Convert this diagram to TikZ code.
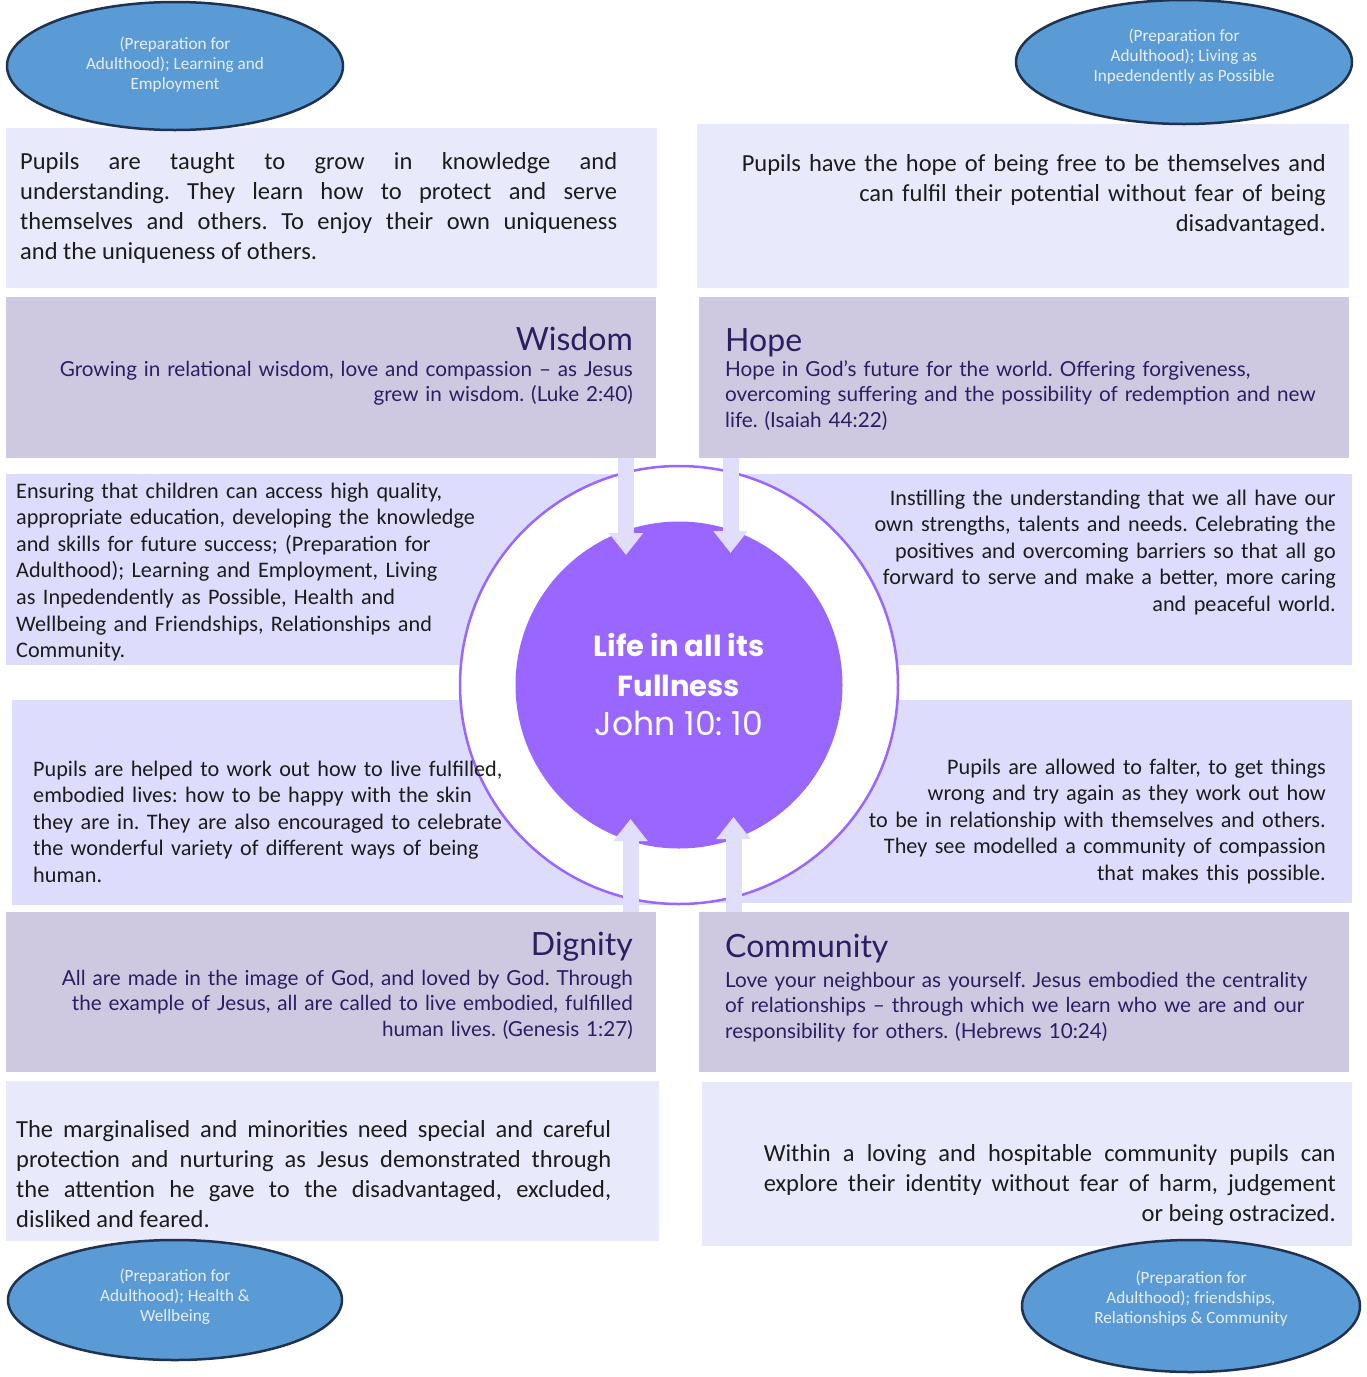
\documentclass[tikz,border=0pt]{standalone}
\usepackage{fontspec}
\setmainfont{Carlito}
\newfontfamily\headfont{Lato}
\newfontfamily\hubfont{Poppins}
\usepackage{tikz}
\usetikzlibrary{arrows.meta}
\usetikzlibrary{shapes.geometric}
\usepackage{xcolor}
\definecolor{panelpale}{HTML}{E9E9FC}
\definecolor{panelmid}{HTML}{DEDCFC}
\definecolor{panelhead}{HTML}{CFC8E1}
\definecolor{headink}{HTML}{2A2060}
\definecolor{bodyink}{HTML}{1C1C1C}
\definecolor{ovalfill}{HTML}{5B9BD5}
\definecolor{ovalline}{HTML}{1F3350}
\definecolor{ovalink}{HTML}{E6EEF8}
\definecolor{hubpurple}{HTML}{9966FF}
\definecolor{feedfill}{HTML}{E0DEFA}
\tikzset{>=latex}
\frenchspacing

\begin{document}
\begin{tikzpicture}[x=1pt,y=-1pt]
        % panels, heading boxes, text, hub, feed arrows, ovals
        \tikzstyle{box}=[draw=none, inner sep=0pt, anchor=north west]
        \tikzstyle{pale}=[box, fill=panelpale]
        \tikzstyle{mid}=[box, fill=panelmid]
        \tikzstyle{head}=[box, fill=panelhead]
        \tikzstyle{bodytext}=[inner sep=0pt, text=bodyink, font=\fontsize{24.5}{30}\selectfont]
        \tikzstyle{midtext}=[inner sep=0pt, text=bodyink, font=\fontsize{22.2}{26.6}\selectfont]
        \tikzstyle{headtitle}=[inner sep=0pt, text=headink, font=\headfont\fontsize{32}{36}\selectfont]
        \tikzstyle{headtext}=[inner sep=0pt, text=headink, text width=630pt, font=\headfont\fontsize{20.7}{25.5}\selectfont]
        \tikzstyle{oval}=[ellipse, fill=ovalfill, draw=ovalline, line width=2.5pt, inner sep=0pt]
        \tikzstyle{ovaltext}=[text=ovalink, align=center, inner sep=0pt, font=\fontsize{17.2}{20}\selectfont]
        \tikzstyle{feed}=[draw=feedfill, line width=16pt, -{Triangle[width=33pt,length=22pt]}]

        \fill[white] (0,0) rectangle (1367,1377);
        \useasboundingbox (0,0) rectangle (1367,1377);

        \node[pale, minimum width=651pt, minimum height=160pt] (learnbox) at (6,128) {};
        \node[pale, minimum width=652pt, minimum height=164pt] (freebox) at (697,124) {};
        \node[head, minimum width=650pt, minimum height=161pt] (wisdom) at (6,297) {};
        \node[head, minimum width=650pt, minimum height=161pt] (hope) at (699,297) {};
        \node[mid, minimum width=674pt, minimum height=191pt] (accessbox) at (6,474) {};
        \node[mid, minimum width=652pt, minimum height=191pt] (strengthbox) at (700,474) {};
        \node[mid, minimum width=668pt, minimum height=205pt] (livesbox) at (12,700) {};
        \node[mid, minimum width=652pt, minimum height=203pt] (falterbox) at (700,700) {};
        \node[head, minimum width=650pt, minimum height=160pt] (dignity) at (6,912) {};
        \node[head, minimum width=650pt, minimum height=160pt] (community) at (699,912) {};
        \node[pale, minimum width=653pt, minimum height=160pt] (protectbox) at (6,1081) {};
        \node[pale, minimum width=650pt, minimum height=164pt] (welcomebox) at (702,1082) {};

        % hub
        \node[circle, fill=white, draw=hubpurple, line width=2.5pt, minimum size=438pt, inner sep=0pt] (ring) at (679,685) {};
        \node[circle, fill=hubpurple, minimum size=327pt, inner sep=0pt, text=white, align=center,
              font=\hubfont\fontsize{29}{39.5}\selectfont] (life) at (679,685)
              {{\bfseries Life in all its}\\{\bfseries Fullness}\\{\fontsize{33}{39.5}\selectfont John 10: 10}};

        % quarter texts
        \node[bodytext, text width=597pt, align=justify, anchor=base west] (learntext) at (20,169)
              {Pupils are taught to grow in knowledge and\linebreak
               understanding. They learn how to protect and serve\linebreak
               themselves and others. To enjoy their own uniqueness\linebreak
               and the uniqueness of others.};
        \node[bodytext, text width=620pt, align=right, anchor=base east] (freetext) at (1326,171)
              {Pupils have the hope of being free to be themselves and\\
               can fulfil their potential without fear of being\\
               disadvantaged.};

        \node[headtitle, anchor=base east] (wisdomtitle) at (633,350) {Wisdom};
        \node[headtext, align=right, anchor=base east] (wisdomtext) at (633,376)
              {Growing in relational wisdom, love and compassion – as Jesus\\
               grew in wisdom. (Luke 2:40)};
        \node[headtitle, anchor=base west] (hopetitle) at (725,351) {Hope};
        \node[headtext, align=left, anchor=base west] (hopetext) at (725,376)
              {Hope in God’s future for the world. Offering forgiveness,\\
               overcoming suffering and the possibility of redemption and new\\
               life. (Isaiah 44:22)};

        \node[midtext, text width=520pt, align=left, anchor=base west] (accesstext) at (16,498)
              {Ensuring that children can access high quality,\\
               appropriate education, developing the knowledge\\
               and skills for future success; (Preparation for\\
               Adulthood); Learning and Employment, Living\\
               as Inpedendently as Possible, Health and\\
               Wellbeing and Friendships, Relationships and\\
               Community.};
        \node[midtext, text width=520pt, align=right, anchor=base east] (strengthtext) at (1336,505)
              {Instilling the understanding that we all have our\\
               own strengths, talents and needs. Celebrating the\\
               positives and overcoming barriers so that all go\\
               forward to serve and make a better, more caring\\
               and peaceful world.};
        \node[midtext, text width=520pt, align=left, anchor=base west] (livestext) at (33,776)
              {Pupils are helped to work out how to live fulfilled,\\
               embodied lives: how to be happy with the skin\\
               they are in. They are also encouraged to celebrate\\
               the wonderful variety of different ways of being\\
               human.};
        \node[midtext, text width=520pt, align=right, anchor=base east] (faltertext) at (1326,774)
              {Pupils are allowed to falter, to get things\\
               wrong and try again as they work out how\\
               to be in relationship with themselves and others.\\
               They see modelled a community of compassion\\
               that makes this possible.};

        \node[headtitle, anchor=base east] (dignitytitle) at (633,955) {Dignity};
        \node[headtext, align=right, anchor=base east] (dignitytext) at (633,985)
              {All are made in the image of God, and loved by God. Through\\
               the example of Jesus, all are called to live embodied, fulfilled\\
               human lives. (Genesis 1:27)};
        \node[headtitle, anchor=base west] (communitytitle) at (725,957) {Community};
        \node[headtext, align=left, anchor=base west] (communitytext) at (725,987)
              {Love your neighbour as yourself. Jesus embodied the centrality\\
               of relationships – through which we learn who we are and our\\
               responsibility for others. (Hebrews 10:24)};

        \node[bodytext, text width=595pt, align=justify, anchor=base west] (protecttext) at (16,1137)
              {The marginalised and minorities need special and careful\linebreak
               protection and nurturing as Jesus demonstrated through\linebreak
               the attention he gave to the disadvantaged, excluded,\linebreak
               disliked and feared.};
        \node[bodytext, text width=572pt, align=justify, anchor=base east] (welcometext) at (1336,1161)
              {Within a loving and hospitable community pupils can\linebreak
               explore their identity without fear of harm, judgement\linebreak
               \hspace*{\fill}or being ostracized.};

        % feed arrows into the hub
        \coordinate (tipA) at (626,555);
        \coordinate (tipB) at (730.5,553);
        \coordinate (tipC) at (630.5,819);
        \coordinate (tipD) at (733.5,817);
        \draw[feed] (wisdom.south -| tipA) -- (tipA);
        \draw[feed] (hope.south -| tipB) -- (tipB);
        \draw[feed] (dignity.north -| tipC) -- (tipC);
        \draw[feed] (community.north -| tipD) -- (tipD);

        % ovals
        \node[oval, minimum width=336pt, minimum height=128pt] (prepA) at (175,66) {};
        \node[oval, minimum width=336pt, minimum height=124pt] (prepB) at (1184,62) {};
        \node[oval, minimum width=334pt, minimum height=120pt] (prepC) at (175,1300) {};
        \node[oval, minimum width=338pt, minimum height=132pt] (prepD) at (1191,1306) {};
        \node[ovaltext] (prepAtext) at (175,65)
              {(Preparation for\\Adulthood); Learning and\\Employment};
        \node[ovaltext] (prepBtext) at (1184,57)
              {(Preparation for\\Adulthood); Living as\\Inpedendently as Possible};
        \node[ovaltext] (prepCtext) at (175,1297)
              {(Preparation for\\Adulthood); Health \&\\Wellbeing};
        \node[ovaltext] (prepDtext) at (1191,1299)
              {(Preparation for\\Adulthood); friendships,\\Relationships \& Community};
\end{tikzpicture}
\end{document}
